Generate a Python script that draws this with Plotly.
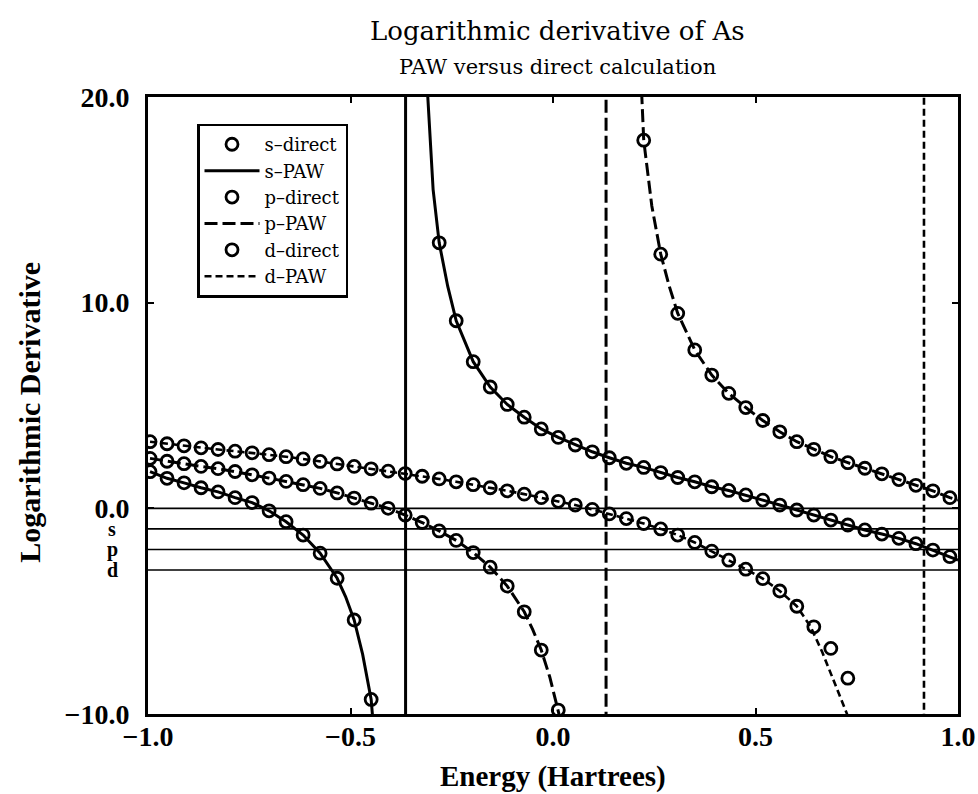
import plotly.graph_objects as go

# ---------------- data ----------------
# energy grid of the direct calculation (Hartrees)
energy = [-0.995, -0.953, -0.911, -0.869, -0.827, -0.785, -0.743, -0.701,
          -0.659, -0.617, -0.575, -0.533, -0.491, -0.449, -0.407, -0.365,
          -0.323, -0.281, -0.239, -0.197, -0.155, -0.113, -0.071, -0.029,
          0.013, 0.055, 0.097, 0.139, 0.181, 0.224, 0.266, 0.308,
          0.350, 0.392, 0.434, 0.476, 0.518, 0.560, 0.602, 0.644,
          0.686, 0.728, 0.770, 0.812, 0.854, 0.896, 0.938, 0.980]

# s-direct: lower branch (grid points 0..13) and upper branch (17..47)
s_direct_idx = list(range(0, 14)) + list(range(17, 48))
s_direct_val = [1.78, 1.46, 1.24, 1.00, 0.80, 0.52, 0.28, -0.12, -0.65, -1.30,
                -2.18, -3.40, -5.43, -9.29,
                12.91, 9.12, 7.13, 5.90, 5.05, 4.43, 3.86, 3.45, 3.08, 2.75,
                2.46, 2.19, 1.99, 1.74, 1.50, 1.29, 1.05, 0.87, 0.65, 0.40,
                0.16, -0.08, -0.33, -0.57, -0.81, -1.05, -1.25, -1.46, -1.72,
                -2.03, -2.35]

# p-direct: lower branch (0..24) and upper branch (29..47)
p_direct_idx = list(range(0, 25)) + list(range(29, 48))
p_direct_val = [2.43, 2.29, 2.17, 2.04, 1.93, 1.79, 1.63, 1.47, 1.31, 1.15,
                0.97, 0.75, 0.50, 0.25, 0.00, -0.33, -0.69, -1.10, -1.56,
                -2.15, -2.86, -3.78, -5.03, -6.89, -9.81,
                17.90, 12.36, 9.48, 7.70, 6.48, 5.59, 4.90, 4.27, 3.72, 3.24,
                2.87, 2.51, 2.22, 1.95, 1.68, 1.40, 1.12, 0.85, 0.52]

# d-direct: grid points 0..41
d_direct_idx = list(range(0, 42))
d_direct_val = [3.24, 3.14, 3.04, 2.94, 2.86, 2.78, 2.70, 2.61, 2.51, 2.40,
                2.28, 2.16, 2.04, 1.92, 1.81, 1.69, 1.56, 1.43, 1.29, 1.15,
                1.00, 0.85, 0.69, 0.52, 0.34, 0.16, -0.05, -0.27, -0.50,
                -0.74, -1.00, -1.30, -1.66, -2.08, -2.52, -2.96, -3.42, -4.02,
                -4.76, -5.76, -6.81, -8.26]

# PAW curves (the jump through each pole is drawn as a vertical segment)
s_paw_x = [-0.995, -0.953, -0.911, -0.869, -0.827, -0.785, -0.743, -0.701,
           -0.659, -0.617, -0.575, -0.533, -0.512, -0.491, -0.470, -0.449,
           -0.446, -0.440, -0.364, -0.364, -0.315, -0.309, -0.296, -0.281,
           -0.260, -0.239, -0.197, -0.155, -0.113, -0.071, -0.029, 0.013,
           0.055, 0.097, 0.139, 0.181, 0.224, 0.266, 0.308, 0.350, 0.392,
           0.434, 0.476, 0.518, 0.560, 0.602, 0.644, 0.686, 0.728, 0.770,
           0.812, 0.854, 0.896, 0.938, 0.980, 1.0]
s_paw_y = [1.78, 1.46, 1.24, 1.00, 0.80, 0.52, 0.28, -0.12, -0.65, -1.30,
           -2.18, -3.40, -4.30, -5.43, -7.10, -9.29, -10.0, -11.5, -60.0,
           60.0, 22.0, 20.0, 15.5, 12.91, 10.8, 9.12, 7.13, 5.90, 5.05, 4.43,
           3.86, 3.45, 3.08, 2.75, 2.46, 2.19, 1.99, 1.74, 1.50, 1.29, 1.05,
           0.87, 0.65, 0.40, 0.16, -0.08, -0.33, -0.57, -0.81, -1.05, -1.25,
           -1.46, -1.72, -2.03, -2.35, -2.52]

p_paw_x = [-0.995, -0.953, -0.911, -0.869, -0.827, -0.785, -0.743, -0.701,
           -0.659, -0.617, -0.575, -0.533, -0.491, -0.449, -0.407, -0.365,
           -0.323, -0.281, -0.239, -0.197, -0.155, -0.113, -0.071, -0.050,
           -0.029, -0.008, 0.013, 0.016, 0.025, 0.131, 0.131, 0.216, 0.218,
           0.224, 0.244, 0.266, 0.287, 0.308, 0.350, 0.392, 0.434, 0.476,
           0.518, 0.560, 0.602, 0.644, 0.686, 0.728, 0.770, 0.812, 0.854,
           0.896, 0.938, 0.980, 1.0]
p_paw_y = [2.43, 2.29, 2.17, 2.04, 1.93, 1.79, 1.63, 1.47, 1.31, 1.15, 0.97,
           0.75, 0.50, 0.25, 0.00, -0.33, -0.69, -1.10, -1.56, -2.15, -2.86,
           -3.78, -5.03, -5.90, -6.89, -8.20, -9.81, -10.1, -11.5, -60.0,
           60.0, 21.0, 20.0, 17.90, 14.7, 12.36, 10.8, 9.48, 7.70, 6.48,
           5.59, 4.90, 4.27, 3.72, 3.24, 2.87, 2.51, 2.22, 1.95, 1.68, 1.40,
           1.12, 0.85, 0.52, 0.40]

d_paw_x = [-0.995, -0.953, -0.911, -0.869, -0.827, -0.785, -0.743, -0.701,
           -0.659, -0.617, -0.575, -0.533, -0.491, -0.449, -0.407, -0.365,
           -0.323, -0.281, -0.239, -0.197, -0.155, -0.113, -0.071, -0.029,
           0.013, 0.055, 0.097, 0.139, 0.181, 0.224, 0.266, 0.308, 0.350,
           0.392, 0.434, 0.476, 0.518, 0.560, 0.602, 0.636, 0.665, 0.690,
           0.712, 0.726, 0.750, 0.916, 0.916, 1.0]
d_paw_y = [3.24, 3.14, 3.04, 2.94, 2.86, 2.78, 2.70, 2.61, 2.51, 2.40, 2.28,
           2.16, 2.04, 1.92, 1.81, 1.69, 1.56, 1.43, 1.29, 1.15, 1.00, 0.85,
           0.69, 0.52, 0.34, 0.16, -0.05, -0.27, -0.50, -0.74, -1.00, -1.30,
           -1.66, -2.08, -2.52, -2.96, -3.42, -4.02, -4.76, -5.75, -7.00,
           -8.20, -9.30, -10.0, -12.5, -60.0, 60.0, 60.0]

# reference levels (0 and -(l+1) for s, p, d)
ref_levels = [0.0, -1.0, -2.0, -3.0]
ref_labels = ["s", "p", "d"]
ref_label_levels = [-1.0, -2.0, -3.0]

x_ticks = [-1.0, -0.5, 0.0, 0.5, 1.0]
y_ticks = [-10.0, 0.0, 10.0, 20.0]

# ---------------- figure ----------------
SERIF = "Liberation Serif"
WIDE = "DejaVu Serif"
fig = go.Figure()

paw_styles = {
    "s": dict(dash="solid", width=3),
    "p": dict(dash="13px,5px", width=3),
    "d": dict(dash="7px,4px", width=2.6),
}
direct = {
    "s": (s_direct_idx, s_direct_val),
    "p": (p_direct_idx, p_direct_val),
    "d": (d_direct_idx, d_direct_val),
}
paw = {"s": (s_paw_x, s_paw_y), "p": (p_paw_x, p_paw_y), "d": (d_paw_x, d_paw_y)}

rank = 1
for l in ["s", "p", "d"]:
    px, py = paw[l]
    fig.add_trace(go.Scatter(
        x=px, y=py, mode="lines", name=f"{l}\u2013PAW",
        line=dict(color="black", **paw_styles[l]),
        legendrank=rank + 1, hoverinfo="skip"))
    rank += 2

rank = 1
for l in ["s", "p", "d"]:
    idx, vals = direct[l]
    fig.add_trace(go.Scatter(
        x=[energy[i] for i in idx], y=vals, mode="markers",
        name=f"{l}\u2013direct",
        marker=dict(symbol="circle-open", size=12, color="black",
                    line=dict(width=2.8, color="black")),
        legendrank=rank))
    rank += 2

for lev in ref_levels:
    fig.add_shape(type="line", xref="paper", x0=0, x1=1, yref="y",
                  y0=lev, y1=lev, line=dict(color="black", width=1.6),
                  layer="below")

for lab, lev in zip(ref_labels, ref_label_levels):
    fig.add_annotation(text=lab, xref="paper", x=-0.044, yref="y", y=lev,
                       xanchor="center", yanchor="middle", showarrow=False,
                       font=dict(family=SERIF, size=20, color="black",
                                 weight="bold"))

fig.add_annotation(text="Logarithmic derivative of As", xref="paper",
                   x=0.505, yref="paper", y=1.107, xanchor="center",
                   yanchor="middle", showarrow=False,
                   font=dict(family=WIDE, size=26, color="black"))
fig.add_annotation(text="PAW versus direct calculation", xref="paper",
                   x=0.505, yref="paper", y=1.0486, xanchor="center",
                   yanchor="middle", showarrow=False,
                   font=dict(family=WIDE, size=21, color="black"))
fig.add_annotation(text="Energy (Hartrees)", xref="paper", x=0.5,
                   yref="paper", y=-0.102, xanchor="center",
                   yanchor="middle", showarrow=False,
                   font=dict(family=SERIF, size=29, color="black",
                             weight="bold"))
fig.add_annotation(text="Logarithmic Derivative", xref="paper", x=-0.1457,
                   yref="paper", y=0.49, xanchor="center",
                   yanchor="middle", textangle=-90, showarrow=False,
                   font=dict(family=SERIF, size=30, color="black",
                             weight="bold"))

axis_common = dict(showline=True, linewidth=3, linecolor="black",
                   mirror="ticks", ticks="inside", ticklen=6, tickwidth=2,
                   tickcolor="black", showgrid=False, zeroline=False,
                   tickformat=".1f", automargin=False,
                   tickfont=dict(family=SERIF, size=28, color="black",
                                 weight="bold"))
fig.update_xaxes(range=[-1.0, 1.0], tickvals=x_ticks, ticklabelstandoff=-5,
                 **axis_common)
fig.update_yaxes(range=[-10.0, 20.0], tickvals=y_ticks, ticklabelstandoff=10,
                 **axis_common)

fig.update_layout(
    width=978, height=794,
    margin=dict(l=148, r=20, t=97, b=80),
    paper_bgcolor="white", plot_bgcolor="white",
    showlegend=True,
    legend=dict(x=0.0605, y=0.957, xanchor="left", yanchor="top",
                bgcolor="white", bordercolor="black", borderwidth=2.5,
                font=dict(family=WIDE, size=18, color="black"),
                itemwidth=55, tracegroupgap=0),
)

fig.write_html("out.html")
